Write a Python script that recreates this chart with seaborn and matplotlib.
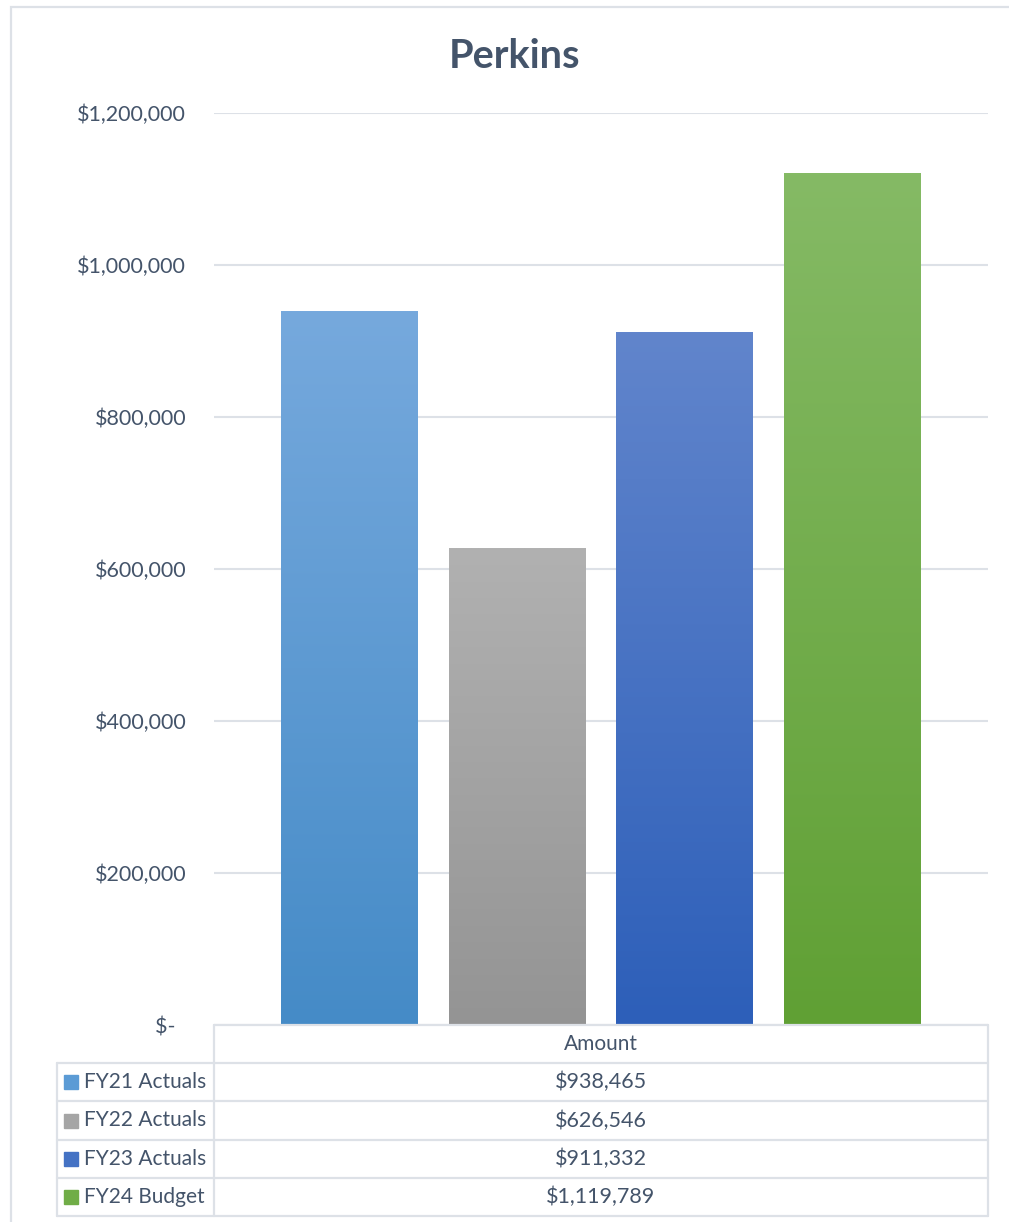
import numpy as np
import pandas as pd
import matplotlib
matplotlib.use("Agg")
import matplotlib.pyplot as plt
import seaborn as sns
from matplotlib.colors import to_rgb
from matplotlib.lines import Line2D
from matplotlib.patches import Rectangle

# ---- data ----
series = ["FY21 Actuals", "FY22 Actuals", "FY23 Actuals", "FY24 Budget"]
amounts = [938465, 626546, 911332, 1119789]
value_labels = ["$938,465", "$626,546", "$911,332", "$1,119,789"]
yticks = [0, 200000, 400000, 600000, 800000, 1000000, 1200000]
ytick_labels = ["$-  ", "$200,000", "$400,000", "$600,000", "$800,000", "$1,000,000", "$1,200,000"]
title = "Perkins"
header = "Amount"

top_colors = ["#76A9DD", "#B1B1B1", "#6185CC", "#85BA65"]
mid_colors = ["#5B9BD5", "#A5A5A5", "#4472C4", "#70AD47"]
bot_colors = ["#458BC7", "#949494", "#2D5FB9", "#60A034"]

TXT = "#44546A"
GRID = "#DDE1E7"

sns.set_theme(style="white")
plt.rcParams["font.family"] = ["Lato", "DejaVu Sans"]

W, H = 1009, 1222
fig = plt.figure(figsize=(W / 100, H / 100), dpi=100)

def fx(px):
    return px / W

def fy(py):
    return 1 - py / H

ax_l, ax_r, ax_t, ax_b = 214, 988, 113, 1025
ax = fig.add_axes([fx(ax_l), fy(ax_b), (ax_r - ax_l) / W, (ax_b - ax_t) / H])

df = pd.DataFrame({"series": series, "amount": amounts})
sns.barplot(data=df, x="series", y="amount", hue="series", palette=mid_colors,
            width=0.817, legend=False, ax=ax, saturation=1, zorder=3)

# gradient fills
for patch, tc, bc in zip(ax.patches, top_colors, bot_colors):
    x0, y0 = patch.get_x(), patch.get_y()
    w, h = patch.get_width(), patch.get_height()
    t = np.linspace(0, 1, 256)[:, None]
    c_top = np.array(to_rgb(tc))
    c_bot = np.array(to_rgb(bc))
    img = c_top[None, None, :] * (1 - t[:, :, None]) + c_bot[None, None, :] * t[:, :, None]
    ax.imshow(img, extent=[x0, x0 + w, y0, y0 + h], aspect="auto", zorder=4,
              interpolation="bilinear", origin="upper")
    patch.set_visible(False)

ax.set_xlim(-0.808, 3.808)
ax.set_ylim(0, 1200000)
ax.set_yticks(yticks)
ax.set_yticklabels(ytick_labels)
ax.set_xticks([])
ax.set_xlabel("")
ax.set_ylabel("")
for s in ax.spines.values():
    s.set_visible(False)
ax.yaxis.grid(True, color=GRID, linewidth=1.5, zorder=0)
ax.set_axisbelow(True)
ax.tick_params(axis="y", length=0, pad=20, labelsize=15.5, labelcolor=TXT)
ax.patch.set_alpha(0)

# title
fig.text(fx(514), fy(68), title, ha="center", va="baseline", fontsize=28.5,
         fontweight="bold", color=TXT)

# data table
lw = 1.6
def hline(y, x0, x1):
    fig.add_artist(Line2D([fx(x0), fx(x1)], [fy(y), fy(y)], color=GRID, lw=lw))

def vline(x, y0, y1):
    fig.add_artist(Line2D([fx(x), fx(x)], [fy(y0), fy(y1)], color=GRID, lw=lw))

row_edges = [1025, 1063, 1101, 1140, 1178, 1216]
hline(row_edges[0], 214, 988)
for y in row_edges[1:]:
    hline(y, 57, 988)
vline(57, 1063, 1216)
vline(214, 1025, 1216)
vline(988, 1025, 1216)

fig.text(fx(601), fy(1044), header, ha="center", va="center", fontsize=15, color=TXT)
for i, (name, val, mc) in enumerate(zip(series, value_labels, mid_colors)):
    yc = (row_edges[i + 1] + row_edges[i + 2]) / 2
    fig.add_artist(Rectangle((fx(64), fy(yc + 7)), 14 / W, 14 / H, color=mc,
                             transform=fig.transFigure))
    fig.text(fx(84), fy(yc), name, ha="left", va="center", fontsize=15, color=TXT)
    fig.text(fx(601), fy(yc), val, ha="center", va="center", fontsize=15.5, color=TXT)

# outer chart frame
fig.add_artist(Rectangle((fx(11), fy(1230)), (1020 - 11) / W, (1230 - 7) / H,
                         fill=False, edgecolor=GRID, lw=1.6, transform=fig.transFigure))

fig.savefig("out.png", dpi=100)
